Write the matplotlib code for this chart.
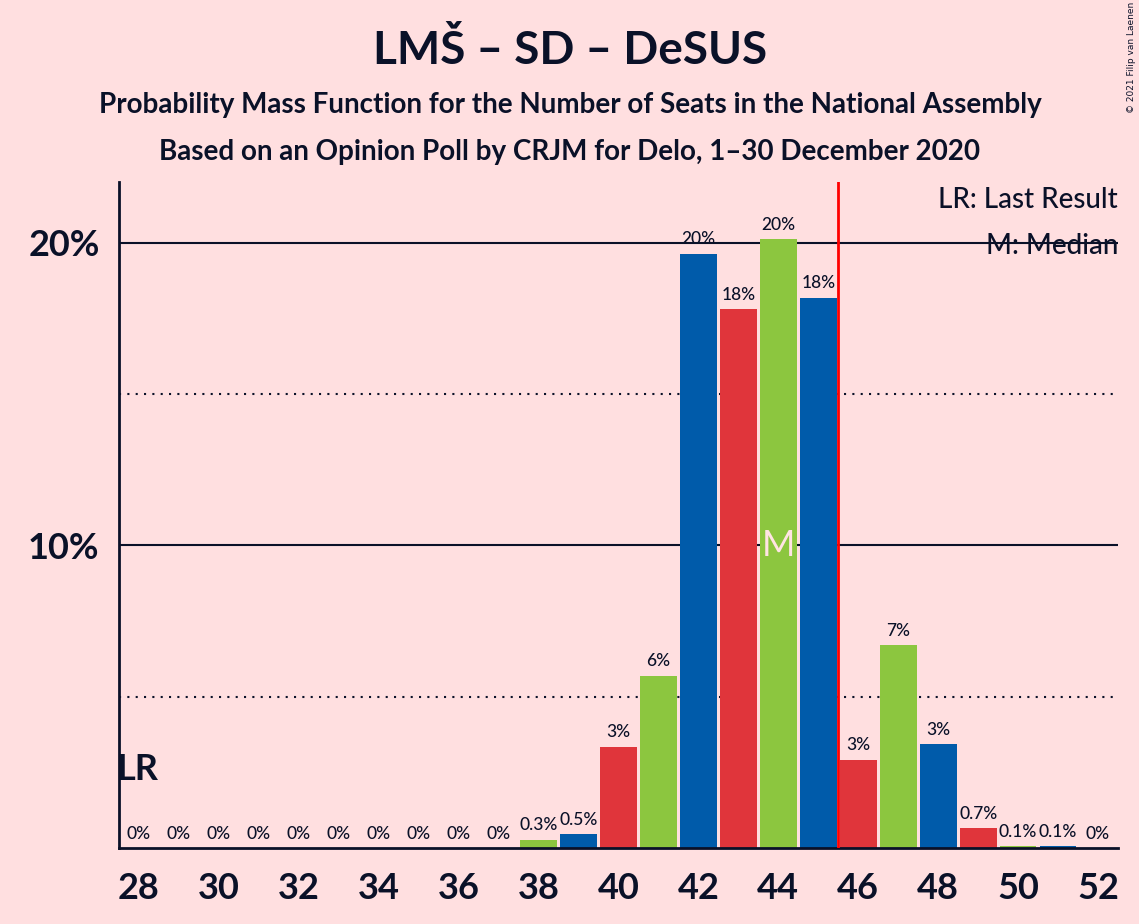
import matplotlib
matplotlib.use("Agg")
import matplotlib.pyplot as plt

plt.rcParams['font.family'] = ['Lato', 'DejaVu Sans']

# data
seats = list(range(28, 53))
probs = [0, 0, 0, 0, 0, 0, 0, 0, 0, 0,
         0.28, 0.45, 3.35, 5.69, 19.63, 17.81, 20.12, 18.18,
         2.92, 6.69, 3.42, 0.66, 0.05, 0.06, 0]
labels = ['0%'] * 10 + ['0.3%', '0.5%', '3%', '6%', '20%', '18%', '20%', '18%',
                        '3%', '7%', '3%', '0.7%', '0.1%', '0.1%', '0%']
yticks = [10, 20]
xticks = list(range(28, 53, 2))
last_result = 28
median = 44
majority = 45.5

bg = '#FFDFE0'
ink = '#0A1128'
party_colors = {0: '#005BAA', 1: '#E0353B', 2: '#8CC63F'}
colors = [party_colors[s % 3] for s in seats]

fig = plt.figure(figsize=(11.39, 9.24), dpi=100, facecolor=bg)
ax = fig.add_axes([119 / 1139, 76 / 924, 999 / 1139, 666 / 924])
ax.set_facecolor(bg)

# gridlines
for y in [5, 15]:
    ax.axhline(y, color=ink, lw=1.5, ls=(0, (1, 3)), zorder=1)
for y in yticks:
    ax.axhline(y, color=ink, lw=1.5, zorder=1)

ax.bar(seats, probs, width=0.92, color=colors, zorder=2)

for s, p, lab in zip(seats, probs, labels):
    ax.annotate(lab, (s, p), xytext=(0, 4.5), textcoords='offset points',
                ha='center', va='bottom', fontsize=12.5, fontweight='medium',
                color=ink, zorder=4)

ax.axvline(majority, color='#FF0000', lw=2, zorder=3)
ax.text(median, 10, 'M', ha='center', va='center', fontsize=26,
        color='#FFE4E4', zorder=4)
ax.text(last_result - 0.58, 2.6, 'LR', ha='left', va='center', fontsize=26,
        fontweight='bold', color=ink, zorder=4)

ax.set_xlim(27.5, 52.5)
ax.set_ylim(0, 22)
ax.set_xticks(xticks)
ax.set_xticklabels([str(x) for x in xticks], fontsize=26, fontweight='bold', color=ink)
ax.set_yticks(yticks)
ax.set_yticklabels([f'{y}%' for y in yticks], fontsize=26, fontweight='bold', color=ink)
ax.tick_params(length=0)
ax.tick_params(axis='x', pad=17)
ax.tick_params(axis='y', pad=14)
for side in ['top', 'right']:
    ax.spines[side].set_visible(False)
for side in ['left', 'bottom']:
    ax.spines[side].set_color(ink)
    ax.spines[side].set_linewidth(2)

fig.text(570 / 1139, 1 - 50 / 924, 'LMŠ – SD – DeSUS', ha='center', va='center',
         fontsize=33, fontweight='bold', color=ink)
fig.text(570 / 1139, 1 - 105 / 924,
         'Probability Mass Function for the Number of Seats in the National Assembly',
         ha='center', va='center', fontsize=20, fontweight='bold', color=ink)
fig.text(570 / 1139, 1 - 152 / 924,
         'Based on an Opinion Poll by CRJM for Delo, 1–30 December 2020',
         ha='center', va='center', fontsize=20, fontweight='bold', color=ink)
fig.text(1118 / 1139, 1 - 200 / 924, 'LR: Last Result', ha='right', va='center',
         fontsize=20, color=ink, fontweight='medium')
fig.text(1118 / 1139, 1 - 246 / 924, 'M: Median', ha='right', va='center',
         fontsize=20, color=ink, fontweight='medium')
fig.text(1131 / 1139, 1 - 57 / 924, '© 2021 Filip van Laenen', rotation=90,
         ha='center', va='center', fontsize=6.5, color=ink, family='DejaVu Sans')

fig.savefig('out.png', dpi=100, facecolor=bg)
